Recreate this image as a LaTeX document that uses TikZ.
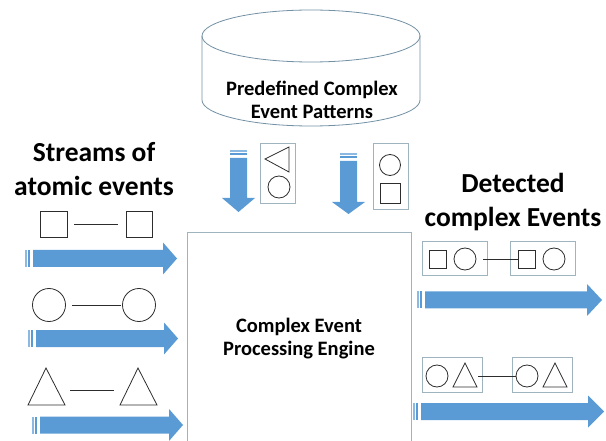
\documentclass[tikz,border=0pt]{standalone}
\usepackage{fontspec}
\setmainfont{Carlito}
\definecolor{arrowblue}{RGB}{91,155,213}
\definecolor{stripeblue}{RGB}{140,185,225}
\definecolor{boxgray}{RGB}{160,180,192}
\definecolor{cylgray}{RGB}{115,145,165}
\definecolor{shapeink}{RGB}{45,45,45}
\tikzset{
  evbox/.style={draw=boxgray, line width=0.9pt},
  evshape/.style={draw=shapeink, line width=0.8pt},
  evlink/.style={draw=shapeink, line width=0.8pt},
  bigtitle/.style={font=\fontsize{27.5}{34}\selectfont\bfseries, align=center},
  midtitle/.style={font=\fontsize{20.5}{23}\selectfont\bfseries, align=center},
}
% horizontal block arrow: #1 stripe start x, #2 centre y, #3 head start x, #4 tip x
\newcommand{\hBlockArrow}[4]{%
  \fill[stripeblue] ({#1},{#2-8.5}) rectangle ({#1+2},{#2+8.5});
  \fill[arrowblue] ({#1+3},{#2-8.5}) rectangle ({#1+5},{#2+8.5});
  \fill[arrowblue] ({#1+8},{#2-8.5}) -- ({#3},{#2-8.5}) -- ({#3},{#2-16}) -- ({#4},{#2})
     -- ({#3},{#2+16}) -- ({#3},{#2+8.5}) -- ({#1+8},{#2+8.5}) -- cycle;}
% vertical block arrow: #1 centre x, #2 stripe start y, #3 head start y, #4 tip y
\newcommand{\vBlockArrow}[4]{%
  \fill[stripeblue] ({#1-8.5},{#2}) rectangle ({#1+8.5},{#2+2});
  \fill[arrowblue] ({#1-8.5},{#2+3}) rectangle ({#1+8.5},{#2+5});
  \fill[arrowblue] ({#1-8.5},{#2+8}) -- ({#1-8.5},{#3}) -- ({#1-16.5},{#3}) -- ({#1},{#4})
     -- ({#1+16.5},{#3}) -- ({#1+8.5},{#3}) -- ({#1+8.5},{#2+8}) -- cycle;}
\begin{document}
\begin{tikzpicture}[x=1pt,y=-1pt]
\useasboundingbox (0,0) rectangle (606,441);

% ---- database cylinder ----
\draw[draw=cylgray, line width=0.8pt, fill=white] (202,36) -- (202,100)
   arc[start angle=180, end angle=0, x radius=109, y radius=26] -- (420,36);
\draw[draw=cylgray, line width=0.8pt] (311,36) ellipse [x radius=109, y radius=26];
\node[midtitle] (db) at (312,100) {Predefined Complex\\Event Patterns};

% ---- pattern boxes and down arrows ----
\vBlockArrow{238.5}{150}{198}{212}
\vBlockArrow{348.5}{153}{202}{214}
\node[evbox, minimum width=35, minimum height=60, inner sep=0] (pat1) at (277.5,173) {};
\draw[evshape] (265,159) -- (289,147) -- (289,172) -- cycle;
\draw[evshape] (279,187) circle (11);
\node[evbox, minimum width=35, minimum height=66, inner sep=0] (pat2) at (390.5,176) {};
\draw[evshape] (390,165) circle (10.5);
\draw[evshape] (380,183) rectangle (400,203);

% ---- engine ----
\node[draw=boxgray, line width=0.9pt, minimum width=224, minimum height=215, inner sep=0,
      anchor=north west] (cep) at (187,232) {};
\node[midtitle] (ceptext) at (299,339) {Complex Event\\Processing Engine};

% ---- titles ----
\node[bigtitle] (streams) at (94,169) {Streams of\\atomic events};
\node[bigtitle] (detected) at (513,202) {Detected\\complex Events};

% ---- input streams ----
\draw[evshape] (40,211) rectangle (67,237);
\draw[evshape] (126,211) rectangle (152,237);
\draw[evlink] (74,224) -- (118,224);
\hBlockArrow{25}{258.5}{163}{177}

\draw[evshape] (49,305) circle (16.5);
\draw[evshape] (139,305) circle (16.5);
\draw[evlink] (72,305) -- (121,305);
\hBlockArrow{28}{338.5}{164}{178}

\draw[evshape] (28,405) -- (46,368) -- (65,405) -- cycle;
\draw[evshape] (120,405) -- (138,368) -- (157,405) -- cycle;
\draw[evlink] (70,390) -- (114,390);
\hBlockArrow{32}{425}{169}{183}

% ---- detected events ----
\node[evbox, minimum width=65, minimum height=34, inner sep=0, anchor=north west] (d1a) at (422,241) {};
\draw[evshape] (429,250) rectangle (446,268);
\draw[evshape] (465,259) circle (11);
\node[evbox, minimum width=65, minimum height=34, inner sep=0, anchor=north west] (d1b) at (510,241) {};
\draw[evshape] (518,250) rectangle (535,268);
\draw[evshape] (554,259) circle (11);
\draw[evlink] (483,259) -- (518,259);
\hBlockArrow{417}{300}{587}{602}

\node[evbox, minimum width=60, minimum height=35, inner sep=0, anchor=north west] (d2a) at (422,357) {};
\draw[evshape] (437,376) circle (11);
\draw[evshape] (453,387) -- (465,363) -- (477,387) -- cycle;
\node[evbox, minimum width=60, minimum height=35, inner sep=0, anchor=north west] (d2b) at (512,357) {};
\draw[evshape] (527,376) circle (11);
\draw[evshape] (543,387) -- (555,363) -- (567,387) -- cycle;
\draw[evlink] (478,376) -- (516,376);
\hBlockArrow{413}{411.5}{588}{604}
\end{tikzpicture}
\end{document}
